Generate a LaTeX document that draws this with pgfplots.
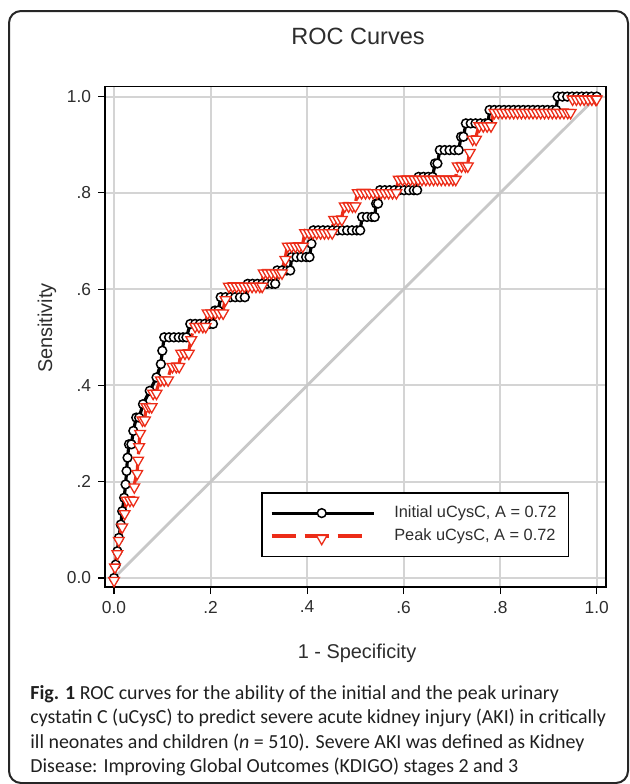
\documentclass[border=0pt]{standalone}
\usepackage{fontspec}
\setmainfont{Liberation Sans}
\newfontfamily\capfont{Carlito}
\usepackage{pgfplots}
\pgfplotsset{compat=1.18}
\definecolor{rocred}{RGB}{236,44,24}
\definecolor{gridgray}{RGB}{212,212,212}
\definecolor{diaggray}{RGB}{200,200,200}
\definecolor{txt}{RGB}{45,45,45}
\pgfplotsset{redlegend/.style={legend image code/.code={\draw[mark repeat=2,mark phase=2,##1] plot coordinates {(0bp,0bp) (25bp,0bp) (45bp,0bp)}; \path (58.5bp,0bp);}}}
\begin{document}
\begin{tikzpicture}[x=0.5bp,y=0.5bp]
\useasboundingbox (0,0) rectangle (630,-784);
\draw[line width=1bp, rounded corners=6bp, black!85] (9,-11) rectangle (628,-783);
\node[txt, font=\fontsize{11.8}{14}\selectfont] at (358,-36) {ROC Curves};
\begin{axis}[at={(52.5bp,-293.5bp)}, anchor=south west, scale only axis,
  width=250.5bp, height=250.3bp,
  xmin=-0.0187, xmax=1.0193, ymin=-0.0187, ymax=1.0212,
  axis line style={line width=0.9bp, black},
  xtick={0,0.2,0.4,0.6,0.8,1}, xticklabels={0.0,.2,.4,.6,.8,1.0},
  ytick={0,0.2,0.4,0.6,0.8,1}, yticklabels={0.0,.2,.4,.6,.8,1.0},
  tick align=outside, tick pos=left, major tick length=3.5bp,
  tick style={black, line width=0.6bp},
  grid=major, major grid style={gridgray, line width=1bp},
  ticklabel style={txt, font=\fontsize{8.7}{10}\selectfont},
  legend cell align=left,
  legend style={at={(0.312,0.19)}, anchor=north west, draw=black, line width=0.8bp,
    inner xsep=4bp, inner ysep=4.5bp, text=txt,
    font=\fontsize{8.2}{10}\selectfont, nodes={inner sep=2pt}},
  legend image code/.code={\draw[mark repeat=2,mark phase=2,#1] plot coordinates {(0bp,0bp) (25bp,0bp) (51bp,0bp)}; \path (58.5bp,0bp);}
]
\addplot[diaggray, line width=1.4bp, forget plot] coordinates {(0,0) (1,1)};

\addplot[black, line width=1.6bp, mark=*, mark size=2.2bp,
  mark options={solid, fill=white, draw=black, line width=0.75bp}] coordinates {
(0,0) (0.0035,0.0278) (0.007,0.0556) (0.010,0.0833) (0.014,0.1111) (0.017,0.1389)
(0.021,0.1667) (0.024,0.1944) (0.026,0.2222) (0.028,0.25)
(0.031,0.2778) (0.036,0.2778) (0.040,0.3056) (0.046,0.3333) (0.052,0.3333)
(0.060,0.3611) (0.074,0.3889) (0.088,0.4167) (0.097,0.4444) (0.100,0.4722)
(0.104,0.5) (0.114,0.5) (0.124,0.5) (0.134,0.5) (0.143,0.5) (0.150,0.5)
(0.158,0.5278) (0.168,0.5278) (0.178,0.5278) (0.188,0.5278) (0.198,0.5278) (0.205,0.5278)
(0.209,0.5556) (0.216,0.5556)
(0.221,0.5833) (0.231,0.5833) (0.241,0.5833) (0.251,0.5833) (0.261,0.5833) (0.271,0.5833)
(0.277,0.6111) (0.287,0.6111) (0.297,0.6111) (0.307,0.6111) (0.317,0.6111) (0.327,0.6111) (0.334,0.6111)
(0.338,0.6389) (0.348,0.6389) (0.358,0.6389) (0.365,0.6389)
(0.368,0.6667) (0.378,0.6667) (0.388,0.6667) (0.398,0.6667) (0.405,0.6667)
(0.409,0.6944)
(0.413,0.7222) (0.423,0.7222) (0.433,0.7222) (0.443,0.7222) (0.453,0.7222) (0.463,0.7222)
(0.473,0.7222) (0.483,0.7222) (0.493,0.7222) (0.503,0.7222) (0.510,0.7222)
(0.514,0.75) (0.524,0.75) (0.534,0.75) (0.540,0.75)
(0.543,0.7778) (0.547,0.7778)
(0.551,0.8056) (0.561,0.8056) (0.571,0.8056) (0.581,0.8056) (0.591,0.8056) (0.601,0.8056)
(0.611,0.8056) (0.621,0.8056) (0.628,0.8056)
(0.631,0.8333) (0.641,0.8333) (0.651,0.8333) (0.660,0.8333)
(0.665,0.8611) (0.670,0.8611)
(0.675,0.8889) (0.685,0.8889) (0.695,0.8889) (0.705,0.8889) (0.714,0.8889)
(0.719,0.9167) (0.724,0.9167)
(0.729,0.9444) (0.739,0.9444) (0.749,0.9444) (0.759,0.9444) (0.769,0.9444) (0.775,0.9444)
(0.778,0.9722) (0.788,0.9722) (0.798,0.9722) (0.808,0.9722) (0.818,0.9722) (0.828,0.9722)
(0.838,0.9722) (0.848,0.9722) (0.858,0.9722) (0.868,0.9722) (0.878,0.9722) (0.888,0.9722)
(0.898,0.9722) (0.908,0.9722) (0.916,0.9722)
(0.919,1) (0.929,1) (0.939,1) (0.949,1) (0.959,1) (0.969,1) (0.979,1) (0.989,1) (1,1)
};
\addlegendentry{Initial uCysC, A = 0.72}

\addplot[rocred, line width=1.6bp, dash pattern=on 12bp off 4.5bp, mark=triangle*, mark size=3.1bp,
  mark options={solid, fill=white, draw=rocred, line width=0.65bp, yshift=-1.3bp, rotate=180},
  redlegend] coordinates {
(0,0) (0.002,0.0278) (0.007,0.0556) (0.010,0.0833) (0.017,0.1111) (0.022,0.1389)
(0.026,0.1667) (0.033,0.1667) (0.040,0.1667) (0.042,0.1944) (0.048,0.2222) (0.050,0.25)
(0.052,0.2778) (0.054,0.3056) (0.059,0.3333) (0.064,0.3333)
(0.067,0.3611) (0.073,0.3611) (0.078,0.3611) (0.081,0.3889) (0.088,0.3889)
(0.097,0.4167) (0.104,0.4167) (0.112,0.4167)
(0.121,0.4444) (0.129,0.4444) (0.135,0.4444)
(0.139,0.4722) (0.147,0.4722) (0.155,0.4722)
(0.160,0.5)
(0.168,0.5278) (0.176,0.5278) (0.184,0.5278) (0.190,0.5278)
(0.194,0.5556) (0.202,0.5556) (0.210,0.5556) (0.218,0.5556) (0.226,0.5556)
(0.231,0.5833)
(0.238,0.6111) (0.246,0.6111) (0.254,0.6111) (0.262,0.6111) (0.270,0.6111) (0.278,0.6111)
(0.286,0.6111) (0.294,0.6111) (0.302,0.6111) (0.307,0.6111)
(0.310,0.6389) (0.318,0.6389) (0.326,0.6389) (0.334,0.6389) (0.342,0.6389) (0.348,0.6389)
(0.355,0.6667)
(0.360,0.6944) (0.368,0.6944) (0.376,0.6944) (0.384,0.6944) (0.391,0.6944)
(0.396,0.7222) (0.404,0.7222) (0.412,0.7222) (0.420,0.7222) (0.428,0.7222) (0.436,0.7222)
(0.444,0.7222) (0.452,0.7222)
(0.456,0.75) (0.464,0.75) (0.472,0.75)
(0.478,0.7778) (0.486,0.7778) (0.494,0.7778) (0.500,0.7778)
(0.505,0.8056) (0.513,0.8056) (0.521,0.8056) (0.529,0.8056) (0.537,0.8056) (0.545,0.8056)
(0.553,0.8056) (0.561,0.8056) (0.569,0.8056) (0.577,0.8056) (0.585,0.8056)
(0.590,0.8333) (0.598,0.8333) (0.606,0.8333) (0.614,0.8333) (0.622,0.8333) (0.630,0.8333)
(0.638,0.8333) (0.646,0.8333) (0.654,0.8333) (0.662,0.8333) (0.670,0.8333) (0.678,0.8333)
(0.686,0.8333) (0.694,0.8333) (0.702,0.8333) (0.708,0.8333)
(0.712,0.8611) (0.720,0.8611) (0.728,0.8611) (0.733,0.8611)
(0.737,0.8889)
(0.743,0.9167) (0.750,0.9167)
(0.757,0.9444) (0.765,0.9444) (0.773,0.9444) (0.781,0.9444)
(0.788,0.9722) (0.796,0.9722) (0.804,0.9722) (0.812,0.9722) (0.820,0.9722) (0.828,0.9722)
(0.836,0.9722) (0.844,0.9722) (0.852,0.9722) (0.860,0.9722) (0.868,0.9722) (0.876,0.9722)
(0.884,0.9722) (0.892,0.9722) (0.900,0.9722) (0.908,0.9722) (0.916,0.9722) (0.924,0.9722)
(0.932,0.9722) (0.940,0.9722) (0.946,0.9722)
(0.950,1) (0.958,1) (0.966,1) (0.974,1) (0.982,1) (0.990,1) (0.998,1) (1,1)
};
\addlegendentry{Peak uCysC, A = 0.72}
\end{axis}
\node[txt, font=\fontsize{10}{12}\selectfont] at (357,-653) {1 - Specificity};
\node[txt, font=\fontsize{10}{12}\selectfont, rotate=90] at (47,-328) {Sensitivity};
\begin{scope}[every node/.style={anchor=base west, inner sep=0pt, black!88, font=\capfont\fontsize{10}{12}\selectfont}]
\node at (30,-699) {\textbf{Fig. 1} ROC curves for the ability of the initial and the peak urinary};
\node at (30,-723.5) {cystatin C (uCysC) to predict severe acute kidney injury (AKI) in critically};
\node at (30,-748) {ill neonates and children (\textit{n} = 510). Severe AKI was defined as Kidney};
\node at (30,-772.5) {Disease: Improving Global Outcomes (KDIGO) stages 2 and 3};
\end{scope}
\end{tikzpicture}
\end{document}
